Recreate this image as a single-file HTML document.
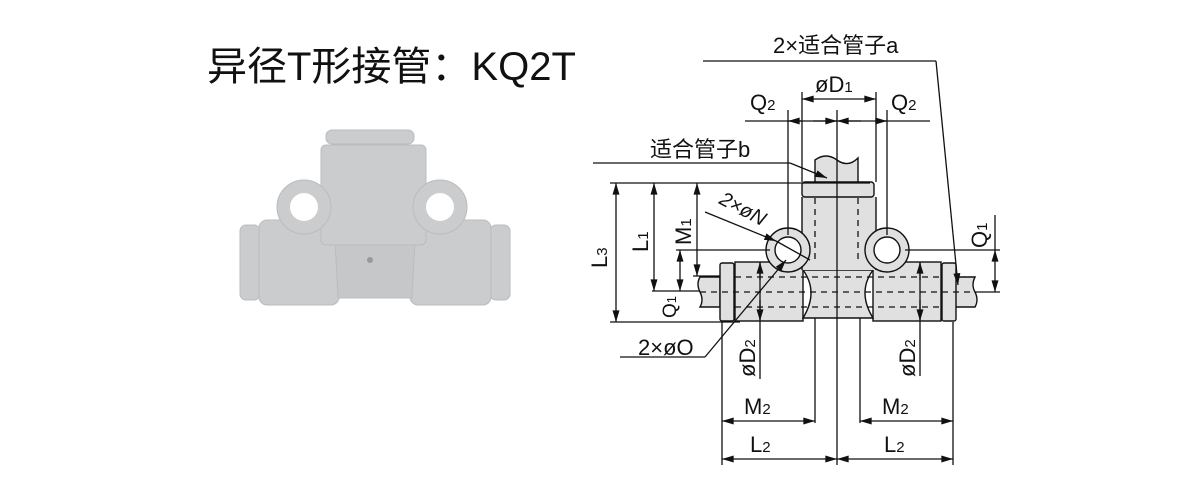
<!DOCTYPE html>
<html><head><meta charset="utf-8"><style>
html,body{margin:0;padding:0;background:#fff;}
svg{display:block}
text{font-family:"Liberation Sans","Noto Sans CJK SC",sans-serif;fill:#111}
</style></head><body>
<svg width="1200" height="500" viewBox="0 0 1200 500" xmlns="http://www.w3.org/2000/svg">
<defs>
<marker id="a" viewBox="0 0 10 6" refX="10" refY="3" markerWidth="16" markerHeight="7" markerUnits="userSpaceOnUse" orient="auto-start-reverse"><path d="M0,0L10,3L0,6z" fill="#111"/></marker>
</defs>
<text x="207" y="80" font-size="40">异径T形接管：KQ2T</text>

<!-- photo -->
<g fill="#cbcccd" stroke="#bbbcbe" stroke-width="1">
<rect x="240" y="225" width="20" height="75" rx="6"/>
<rect x="490" y="225" width="20" height="75" rx="6"/>
<rect x="259" y="220" width="80" height="85" rx="8"/>
<rect x="410" y="220" width="81" height="85" rx="8"/>
<path d="M335,240 L415,240 L412,298 L338,298 Z" fill="#c6c7c8"/>
<rect x="321" y="145" width="105" height="100" rx="5"/>
<rect x="326" y="130" width="88" height="14" rx="6"/>
<circle cx="304" cy="207" r="27"/>
<circle cx="440" cy="207" r="27"/>
</g>
<circle cx="304" cy="207" r="14" fill="#fff"/>
<circle cx="440" cy="207" r="14" fill="#fff"/>
<circle cx="370" cy="260" r="3" fill="#999"/>

<!-- drawing -->
<g stroke="#111" stroke-width="1.4" fill="#e0e0e0">
<path d="M700,277 L720,277 L720,307 L700,307 Q704,300 700,292 Q696,284 700,277Z"/>
<path d="M955,277 L975,277 Q971,285 975,292 Q979,300 975,307 L955,307Z"/>
<rect x="720" y="263" width="14" height="58" rx="2"/>
<rect x="942" y="263" width="14" height="58" rx="2"/>
<rect x="735" y="262" width="68" height="59"/>
<rect x="873" y="262" width="68" height="59"/>
<path d="M803,270 L873,270 Q857,292 873,318 L803,318 Q819,292 803,270Z"/>
<rect x="802" y="197" width="74" height="73" stroke="none"/>
<line x1="802" y1="197" x2="802" y2="270"/><line x1="876" y1="197" x2="876" y2="270"/>
<path d="M815,185 L815,160 Q826,152 837,160 Q848,168 858,158 L858,185Z"/>
<rect x="802" y="182" width="72" height="15" rx="3"/>
<circle cx="788" cy="250" r="22"/>
<circle cx="887" cy="250" r="22"/>
<circle cx="788" cy="250" r="13" fill="#fff"/>
<circle cx="887" cy="250" r="13" fill="#fff"/>
</g>
<g stroke="#111" stroke-width="1.3" stroke-dasharray="6,5" fill="none">
<line x1="815" y1="198" x2="815" y2="260"/><line x1="858" y1="198" x2="858" y2="260"/>
<line x1="735" y1="277" x2="940" y2="277"/><line x1="735" y1="307" x2="940" y2="307"/>
<line x1="700" y1="292" x2="975" y2="292"/>
</g>

<g stroke="#111" stroke-width="1.3" fill="none">
<line x1="837" y1="110" x2="837" y2="465"/>
<line x1="788" y1="110" x2="788" y2="235"/><line x1="802" y1="92" x2="802" y2="182"/>
<line x1="876" y1="92" x2="876" y2="182"/><line x1="887" y1="110" x2="887" y2="235"/>
<line x1="745" y1="121" x2="930" y2="121"/>
<line x1="788" y1="121" x2="802" y2="121" marker-start="url(#a)"/>
<line x1="813" y1="121" x2="837" y2="121" marker-end="url(#a)"/>
<line x1="837" y1="121" x2="861" y2="121" marker-start="url(#a)"/>
<line x1="876" y1="121" x2="887" y2="121" marker-end="url(#a)"/>
<line x1="802" y1="99" x2="876" y2="99" marker-start="url(#a)" marker-end="url(#a)"/>
<line x1="610" y1="183" x2="870" y2="183"/>
<line x1="610" y1="322" x2="740" y2="322"/>
<line x1="652" y1="291" x2="700" y2="291"/>
<line x1="676" y1="250" x2="770" y2="250"/>
<line x1="693" y1="276" x2="720" y2="276"/>
<line x1="616" y1="183" x2="616" y2="322" marker-start="url(#a)" marker-end="url(#a)"/>
<line x1="654" y1="183" x2="654" y2="291" marker-start="url(#a)" marker-end="url(#a)"/>
<line x1="697" y1="183" x2="697" y2="276" marker-start="url(#a)" marker-end="url(#a)"/>
<line x1="680" y1="250" x2="680" y2="291" marker-start="url(#a)" marker-end="url(#a)"/>
<line x1="905" y1="250" x2="1000" y2="250"/>
<line x1="975" y1="292" x2="1000" y2="292"/>
<line x1="995" y1="250" x2="995" y2="292" marker-start="url(#a)" marker-end="url(#a)"/>
<line x1="995" y1="215" x2="995" y2="250"/>
<line x1="760" y1="262" x2="760" y2="379" />
<line x1="760" y1="262" x2="760" y2="280" marker-start="url(#a)"/>
<line x1="760" y1="300" x2="760" y2="321" marker-end="url(#a)"/>
<line x1="920" y1="262" x2="920" y2="376"/>
<line x1="920" y1="262" x2="920" y2="280" marker-start="url(#a)"/>
<line x1="920" y1="300" x2="920" y2="321" marker-end="url(#a)"/>
<line x1="722" y1="322" x2="722" y2="465"/><line x1="815" y1="318" x2="815" y2="423"/>
<line x1="860" y1="318" x2="860" y2="423"/><line x1="953" y1="322" x2="953" y2="465"/>
<line x1="722" y1="421" x2="815" y2="421" marker-start="url(#a)" marker-end="url(#a)"/>
<line x1="860" y1="421" x2="953" y2="421" marker-start="url(#a)" marker-end="url(#a)"/>
<line x1="722" y1="459" x2="837" y2="459" marker-start="url(#a)" marker-end="url(#a)"/>
<line x1="837" y1="459" x2="953" y2="459" marker-start="url(#a)" marker-end="url(#a)"/>
<polyline points="703,61 936,61"/>
<line x1="936" y1="61" x2="958" y2="285" marker-end="url(#a)"/>
<polyline points="593,163 790,163"/>
<line x1="790" y1="163" x2="827" y2="178" marker-end="url(#a)"/>
<line x1="705" y1="212" x2="776" y2="241" marker-end="url(#a)"/>
<line x1="776" y1="241" x2="810" y2="260"/>
<polyline points="620,357 705,357"/>
<line x1="705" y1="357" x2="786" y2="260" marker-end="url(#a)"/>
</g>

<g font-size="22">
<text x="773" y="53">2×适合管子a</text>
<text x="650" y="157">适合管子b</text>
<text x="815" y="92">øD<tspan font-size="15">1</tspan></text>
<text x="750" y="110">Q<tspan font-size="15">2</tspan></text>
<text x="891" y="110">Q<tspan font-size="15">2</tspan></text>
<text x="638" y="355">2×øO</text>
<text x="744" y="414">M<tspan font-size="15">2</tspan></text>
<text x="882" y="414">M<tspan font-size="15">2</tspan></text>
<text x="750" y="452">L<tspan font-size="15">2</tspan></text>
<text x="884" y="452">L<tspan font-size="15">2</tspan></text>
<text transform="translate(718,203) rotate(28)" font-style="italic" font-size="20">2×øN</text>
<text transform="translate(607,268) rotate(-90)">L<tspan font-size="15">3</tspan></text>
<text transform="translate(648,252) rotate(-90)">L<tspan font-size="15">1</tspan></text>
<text transform="translate(691,245) rotate(-90)">M<tspan font-size="15">1</tspan></text>
<text transform="translate(676,318) rotate(-90)" font-size="19">Q<tspan font-size="13">1</tspan></text>
<text transform="translate(987,248) rotate(-90)">Q<tspan font-size="15">1</tspan></text>
<text transform="translate(755,377) rotate(-90)">øD<tspan font-size="15">2</tspan></text>
<text transform="translate(915,377) rotate(-90)">øD<tspan font-size="15">2</tspan></text>
</g>
</svg>
</body></html>
